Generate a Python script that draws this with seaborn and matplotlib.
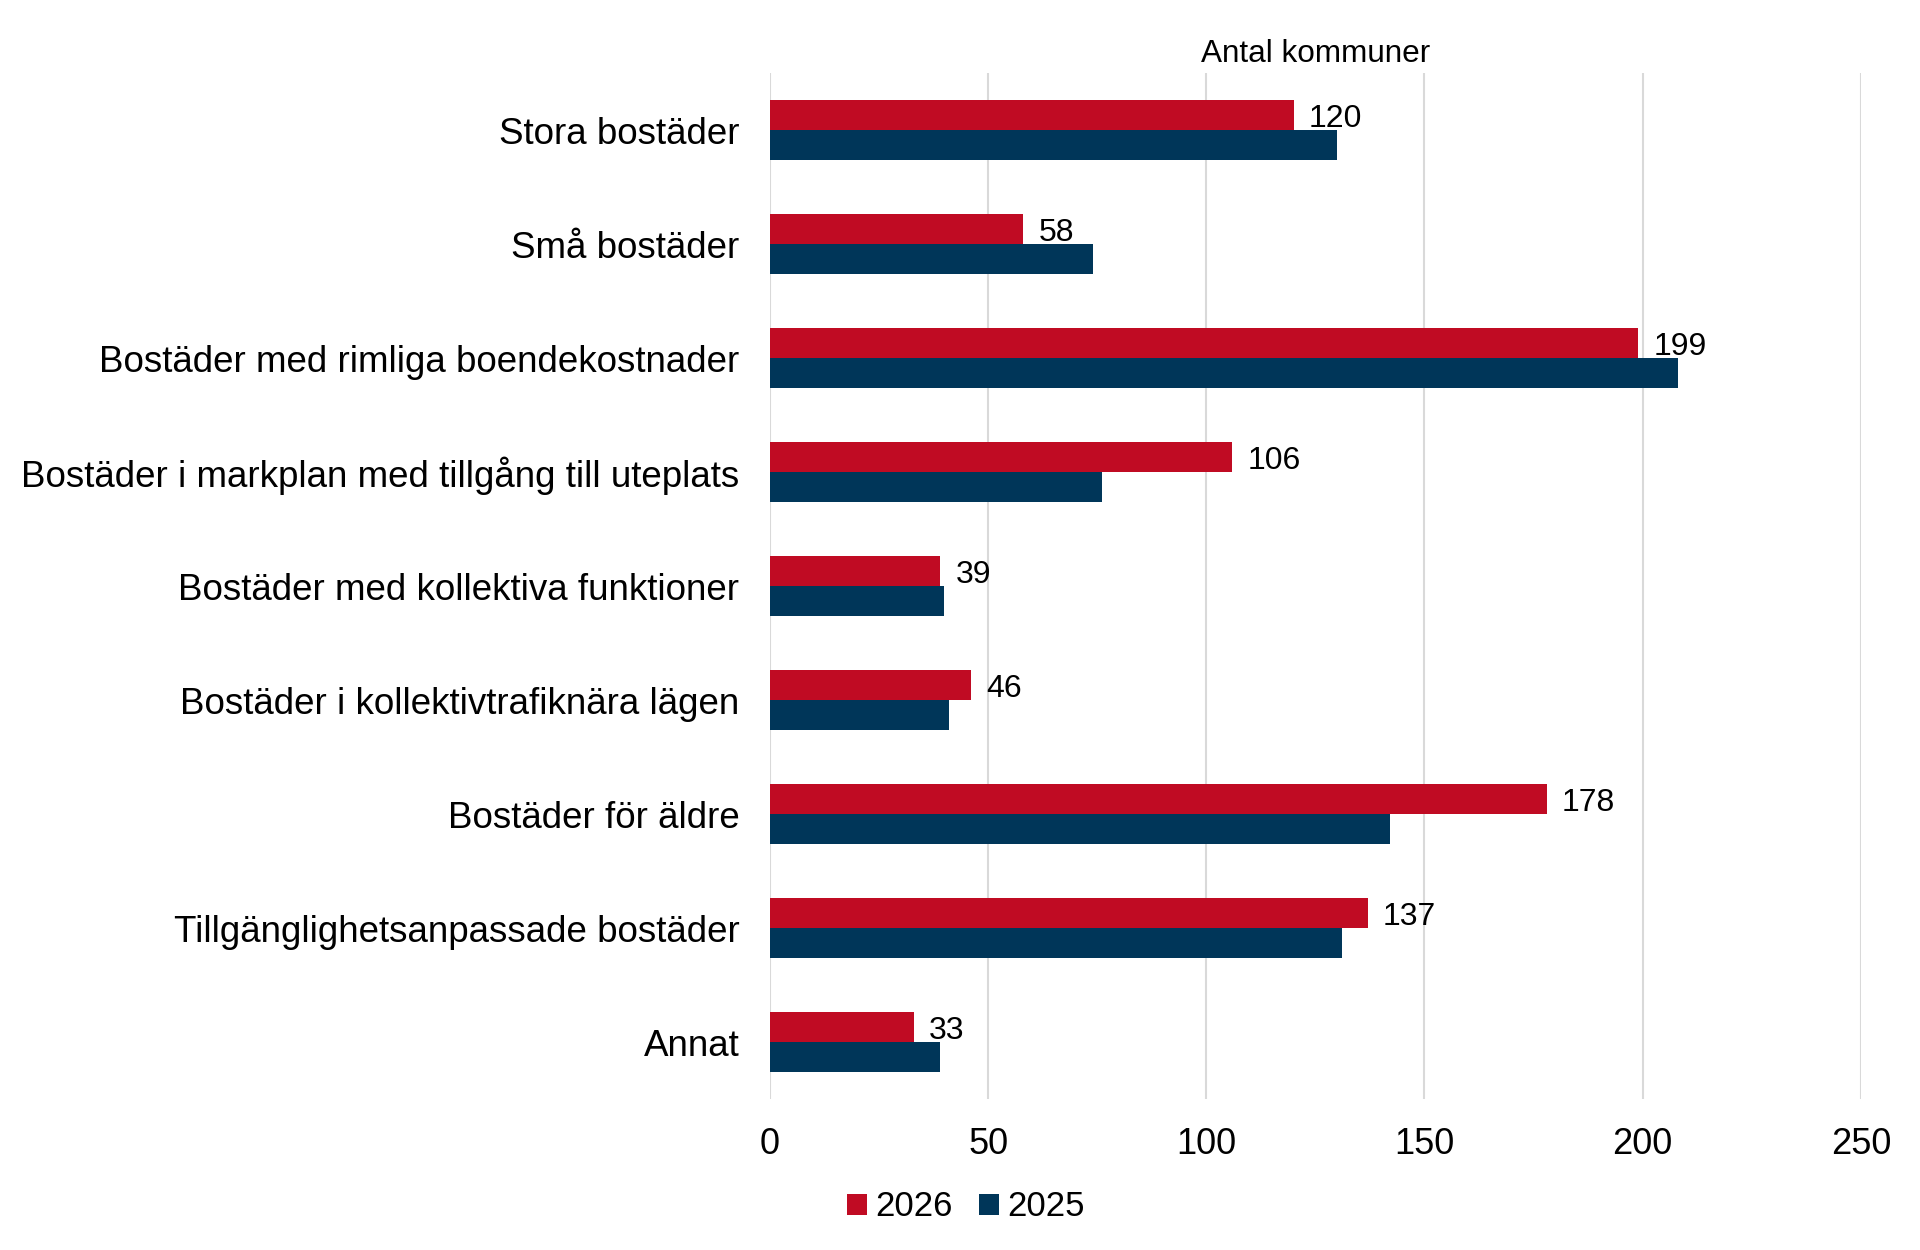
import pandas as pd
import matplotlib
matplotlib.use("Agg")
import matplotlib.pyplot as plt
import seaborn as sns

categories = [
    "Stora bostäder",
    "Små bostäder",
    "Bostäder med rimliga boendekostnader",
    "Bostäder i markplan med tillgång till uteplats",
    "Bostäder med kollektiva funktioner",
    "Bostäder i kollektivtrafiknära lägen",
    "Bostäder för äldre",
    "Tillgänglighetsanpassade bostäder",
    "Annat",
]
years = ["2026", "2025"]
values_2026 = [120, 58, 199, 106, 39, 46, 178, 137, 33]
values_2025 = [130, 74, 208, 76, 40, 41, 142, 131, 39]
x_ticks = [0, 50, 100, 150, 200, 250]

df = pd.DataFrame({
    "kategori": categories * 2,
    "år": [years[0]] * len(categories) + [years[1]] * len(categories),
    "antal": values_2026 + values_2025,
})

sns.set_style("white")
plt.rcParams["font.family"] = ["Liberation Sans", "DejaVu Sans"]
plt.rcParams["text.color"] = "black"
plt.rcParams["xtick.color"] = "black"
plt.rcParams["ytick.color"] = "black"
plt.rcParams["axes.labelcolor"] = "black"

fig = plt.figure(figsize=(19.2, 12.5), dpi=100)
ax = fig.add_axes([0.401, 0.1208, 0.5682, 0.8208])

sns.barplot(data=df, y="kategori", x="antal", hue="år", hue_order=years,
            order=categories, orient="h", palette=["#C00B23", "#003659"],
            width=0.53, saturation=1, linewidth=0, ax=ax, legend=True)

labels_2026 = ax.bar_label(ax.containers[0], fontsize=23)
for t in labels_2026:
    t.xyann = (11, -3)

ax.set_xlim(0, 250)
ax.set_ylim(len(categories) - 0.5, -0.5)
ax.set_xticks(x_ticks)
ax.grid(True, axis="x", color="#d9d9d9", linewidth=1.5)
ax.set_axisbelow(True)
for s in ax.spines.values():
    s.set_visible(False)

ax.tick_params(axis="x", length=0, pad=20, labelsize=26)
ax.tick_params(axis="y", length=0, pad=22, labelsize=26.5)
ax.set_ylabel("")
ax.set_xlabel("Antal kommuner", fontsize=22.7, labelpad=8)
ax.xaxis.set_label_position("top")

handles, labels = ax.get_legend_handles_labels()
ax.get_legend().remove()
fig.legend(handles, labels, loc="center", bbox_to_anchor=(0.503, 0.0344), ncol=2,
           frameon=False, fontsize=25, handlelength=0.57, handleheight=0.55,
           handletextpad=0.25, columnspacing=0.75)

plt.savefig("out.png", dpi=100)
